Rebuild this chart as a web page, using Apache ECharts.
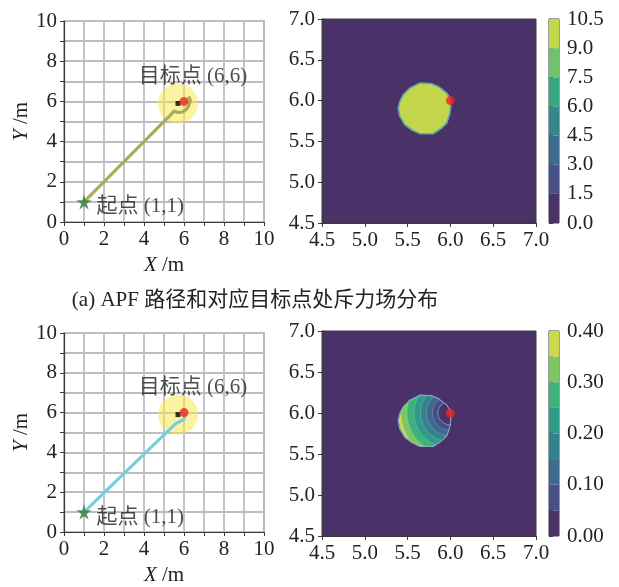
<!DOCTYPE html>
<html>
<head>
<meta charset="utf-8">
<script src="https://cdn.jsdelivr.net/npm/echarts@6/dist/echarts.min.js"></script>
<style>
html,body{margin:0;padding:0;background:#fff;}
#c{width:619px;height:587px;}
</style>
</head>
<body>
<div id="c"></div>
<script>
// ---------- data ----------
const startPt = [1, 1];
const goalPt = [6, 6];
const obstacle = [5.7, 5.9];
const influenceR = 1.0;
const pathA_x = [1, 5.38, 5.5, 5.62, 5.8, 5.97, 6.12, 6.23, 6.32, 6.26];
const pathA_y = [1, 5.38, 5.52, 5.47, 5.45, 5.5, 5.6, 5.78, 6.05, 6.18];
const pathB_x = [1, 5.58, 5.68, 5.85, 5.97, 6.04, 6.05];
const pathB_y = [1, 5.45, 5.55, 5.58, 5.66, 5.78, 5.86];
const pathTicks = [0, 2, 4, 6, 8, 10];
const fieldTicks = [4.5, 5.0, 5.5, 6.0, 6.5, 7.0];
// outline of the non-zero field region
const blobX = [5.644, 5.781, 5.858, 5.957, 5.995, 6.003, 5.995, 5.957, 5.898, 5.800, 5.644, 5.547, 5.468, 5.410, 5.390, 5.410, 5.449, 5.527, 5.605];
const blobY = [6.216, 6.207, 6.174, 6.093, 6.032, 5.929, 5.848, 5.725, 5.664, 5.594, 5.594, 5.643, 5.705, 5.806, 5.909, 5.990, 6.072, 6.154, 6.195];
const levelsA = [0, 1.5, 3.0, 4.5, 6.0, 7.5, 9.0, 10.5];
const colorsA = ['#4a3168', '#46518a', '#3c6d8e', '#34888c', '#37a884', '#6fc36a', '#c4d64c'];
const levelsB = [0, 0.05, 0.10, 0.15, 0.20, 0.25, 0.30, 0.35, 0.40];
const colorsB = ['#4a3168', '#474e88', '#3f6a8f', '#34828e', '#2e9a8a', '#3cb27c', '#7fc663', '#cdd94b'];
// distance from goal point of the level boundaries 0.35,0.30,...,0.05 (panel b)
const arcRadiiB = [0.578, 0.507, 0.425, 0.35, 0.28, 0.21, 0.145];

const FONT = "'Liberation Serif','Noto Sans CJK SC',serif";
const FS = 21;
const TXT = '#222';
const FRAME = '#3a3a3a';
const BG = '#4a3168';

const chart = echarts.init(document.getElementById('c'), null, {renderer: 'canvas'});

function clipPoly(subject, clip) {
  let area = 0;
  for (let i = 0; i < clip.length; i++) {
    const j = (i + 1) % clip.length;
    area += clip[i][0] * clip[j][1] - clip[j][0] * clip[i][1];
  }
  const s = area >= 0 ? 1 : -1;
  let output = subject;
  for (let i = 0; i < clip.length; i++) {
    const a = clip[i], b = clip[(i + 1) % clip.length];
    const cr = p => s * ((b[0] - a[0]) * (p[1] - a[1]) - (b[1] - a[1]) * (p[0] - a[0]));
    const input = output;
    output = [];
    if (!input.length) break;
    for (let k = 0; k < input.length; k++) {
      const cur = input[k], prev = input[(k + input.length - 1) % input.length];
      const dc = cr(cur), dp = cr(prev);
      const inter = () => { const t = dp / (dp - dc); return [prev[0] + t * (cur[0] - prev[0]), prev[1] + t * (cur[1] - prev[1])]; };
      if (dc >= 0) { if (dp < 0) output.push(inter()); output.push(cur); }
      else if (dp >= 0) output.push(inter());
    }
  }
  return output;
}

function blobPixels(api) {
  return blobX.map((x, i) => api.coord([x, blobY[i]]));
}

function circlePixels(api, c, r) {
  const pts = [];
  const n = 90;
  for (let i = 0; i < n; i++) {
    const a = 2 * Math.PI * i / n;
    pts.push(api.coord([c[0] + r * Math.cos(a), c[1] + r * Math.sin(a)]));
  }
  return pts;
}

function pathAxes(gi) {
  const common = {
    type: 'value', min: 0, max: 10, interval: 1, gridIndex: gi,
    axisLine: {show: true, lineStyle: {color: FRAME, width: 1.2}},
    axisTick: {show: true, length: 4, lineStyle: {color: FRAME}},
    splitLine: {show: true, lineStyle: {color: '#bdbdc3', width: 1.8}},
    axisLabel: {color: TXT, fontSize: FS, fontFamily: FONT, margin: 7,
      formatter: v => (pathTicks.indexOf(v) >= 0 ? String(v) : '')},
    nameLocation: 'middle',
    nameTextStyle: {color: TXT, fontSize: FS, fontFamily: FONT,
      rich: {i: {fontStyle: 'italic', fontSize: FS, fontFamily: FONT, color: TXT}}}
  };
  return {
    x: Object.assign({}, common, {name: '{i|X} /m', nameGap: 33}),
    y: Object.assign({}, common, {name: '{i|Y} /m', nameGap: 30})
  };
}

function fieldAxes(gi) {
  const common = {
    type: 'value', min: 4.5, max: 7.0, interval: 0.5, gridIndex: gi,
    axisLine: {show: true, lineStyle: {color: FRAME, width: 1}},
    axisTick: {show: true, length: 4, lineStyle: {color: FRAME}},
    splitLine: {show: false},
    axisLabel: {color: TXT, fontSize: FS, fontFamily: FONT, margin: 7,
      formatter: v => (fieldTicks.some(t => Math.abs(t - v) < 1e-6) ? v.toFixed(1) : '')}
  };
  return {x: Object.assign({}, common), y: Object.assign({}, common)};
}

function cbarAxes(gi, levels, fmt) {
  return {
    x: {type: 'value', min: 0, max: 1, gridIndex: gi, show: false},
    y: {type: 'value', min: levels[0], max: levels[levels.length - 1],
      interval: levels[1] - levels[0], gridIndex: gi, position: 'right',
      axisLine: {show: true, lineStyle: {color: FRAME, width: 1}},
      axisTick: {show: true, length: 4, lineStyle: {color: FRAME}},
      splitLine: {show: false},
      axisLabel: {color: TXT, fontSize: FS, fontFamily: FONT, margin: 8, formatter: fmt}}
  };
}

const pA = pathAxes(0), fA = fieldAxes(1);
const cA = cbarAxes(2, levelsA, v => v.toFixed(1));
const pB = pathAxes(3), fB = fieldAxes(4);
const cB = cbarAxes(5, levelsB, v => { const k = Math.round(v * 100); return k % 10 === 0 ? v.toFixed(2) : ''; });

const starPath = 'path://M50,0 L61,35 L98,35 L68,57 L79,91 L50,70 L21,91 L32,57 L2,35 L39,35 Z';

function pathSeries(ax, pathX, pathY, color) {
  return [
    {
      type: 'custom', xAxisIndex: ax, yAxisIndex: ax, silent: true, z: 2,
      data: [[obstacle[0], obstacle[1], influenceR]],
      renderItem: (params, api) => {
        const c = api.coord([api.value(0), api.value(1)]);
        const s = api.size([api.value(2), api.value(2)]);
        return {type: 'circle', shape: {cx: c[0], cy: c[1], r: (s[0] + s[1]) / 2},
          style: {fill: 'rgba(247,232,70,0.5)'}};
      }
    },
    {
      type: 'line', xAxisIndex: ax, yAxisIndex: ax, silent: true, z: 3,
      data: pathX.map((x, i) => [x, pathY[i]]),
      showSymbol: false, symbol: 'none',
      lineStyle: {color: color, width: 3.2, join: 'round', cap: 'round'}
    },
    {
      type: 'scatter', xAxisIndex: ax, yAxisIndex: ax, silent: true, z: 4,
      data: [obstacle], symbol: 'rect', symbolSize: 5, itemStyle: {color: '#000'}
    },
    {
      type: 'scatter', xAxisIndex: ax, yAxisIndex: ax, silent: true, z: 5,
      data: [goalPt], symbol: 'circle', symbolSize: 9, itemStyle: {color: '#ee2424'},
      label: {show: true, formatter: '目标点 (6,6)', position: 'top', distance: 10, offset: [9, 0],
        color: TXT, fontSize: FS, fontFamily: FONT}
    },
    {
      type: 'scatter', xAxisIndex: ax, yAxisIndex: ax, silent: true, z: 5,
      data: [startPt], symbol: starPath, symbolSize: 15, itemStyle: {color: '#2f7d3a'},
      label: {show: true, formatter: '起点 (1,1)', position: 'right', distance: 5, offset: [0, 5],
        color: TXT, fontSize: FS, fontFamily: FONT}
    }
  ];
}

function cbarSeries(ax, levels, colors) {
  return {
    type: 'custom', xAxisIndex: ax, yAxisIndex: ax, silent: true,
    data: colors.map((c, i) => [i]),
    renderItem: (params, api) => {
      const i = api.value(0);
      const p0 = api.coord([0, levels[i]]);
      const p1 = api.coord([1, levels[i + 1]]);
      return {type: 'rect', shape: {x: p0[0], y: p1[1], width: p1[0] - p0[0], height: p0[1] - p1[1]},
        style: {fill: colors[i]}};
    }
  };
}

const fieldA = {
  type: 'custom', xAxisIndex: 1, yAxisIndex: 1, silent: true,
  data: [[0]],
  renderItem: (params, api) => {
    const pts = blobPixels(api);
    return {type: 'polygon', shape: {points: pts},
      style: {fill: colorsA[colorsA.length - 1], stroke: '#5fa9a6', lineWidth: 1.6}};
  }
};

const fieldB = {
  type: 'custom', xAxisIndex: 4, yAxisIndex: 4, silent: true,
  data: [[0]],
  renderItem: (params, api) => {
    const blob = blobPixels(api);
    const children = [{type: 'polygon', shape: {points: blob},
      style: {fill: colorsB[colorsB.length - 1], stroke: '#7f9dc8', lineWidth: 1.4}}];
    arcRadiiB.forEach((r, i) => {
      const circ = circlePixels(api, goalPt, r);
      const part = clipPoly(circ, blob);
      if (part.length > 2) {
        const last = i === arcRadiiB.length - 1;
        children.push({type: 'polygon', shape: {points: part},
          style: {fill: colorsB[colorsB.length - 2 - i],
            stroke: last ? '#7f9dc8' : 'rgba(190,215,225,0.35)', lineWidth: last ? 1 : 0.8}});
      }
    });
    return {type: 'group', children: children};
  }
};

function goalDot(ax) {
  return {type: 'scatter', xAxisIndex: ax, yAxisIndex: ax, silent: true, z: 5,
    data: [goalPt], symbol: 'circle', symbolSize: 9, itemStyle: {color: '#ee2424'}};
}

const option = {
  animation: false,
  backgroundColor: '#fff',
  textStyle: {fontFamily: FONT},
  grid: [
    {left: 64, top: 21, width: 200, height: 201, show: true, borderColor: FRAME, borderWidth: 1.2, backgroundColor: 'transparent'},
    {left: 322, top: 19, width: 214, height: 204, show: true, borderColor: FRAME, borderWidth: 1, backgroundColor: BG},
    {left: 549, top: 19, width: 10, height: 204, show: true, borderColor: FRAME, borderWidth: 1, backgroundColor: 'transparent'},
    {left: 64, top: 333, width: 200, height: 201, show: true, borderColor: FRAME, borderWidth: 1.2, backgroundColor: 'transparent'},
    {left: 322, top: 331, width: 214, height: 205, show: true, borderColor: FRAME, borderWidth: 1, backgroundColor: BG},
    {left: 549, top: 331, width: 10, height: 205, show: true, borderColor: FRAME, borderWidth: 1, backgroundColor: 'transparent'}
  ],
  xAxis: [pA.x, fA.x, cA.x, pB.x, fB.x, cB.x],
  yAxis: [pA.y, fA.y, cA.y, pB.y, fB.y, cB.y],
  graphic: [
    {type: 'text', x: 255, y: 300, style: {text: '(a) APF 路径和对应目标点处斥力场分布',
      font: FS + "px " + FONT, fill: TXT, textAlign: 'center', textVerticalAlign: 'middle'}}
  ],
  series: [].concat(
    pathSeries(0, pathA_x, pathA_y, '#a9ae52'),
    [fieldA, goalDot(1), cbarSeries(2, levelsA, colorsA)],
    pathSeries(3, pathB_x, pathB_y, '#78ced9'),
    [fieldB, goalDot(4), cbarSeries(5, levelsB, colorsB)]
  )
};
chart.setOption(option);
</script>
</body>
</html>
